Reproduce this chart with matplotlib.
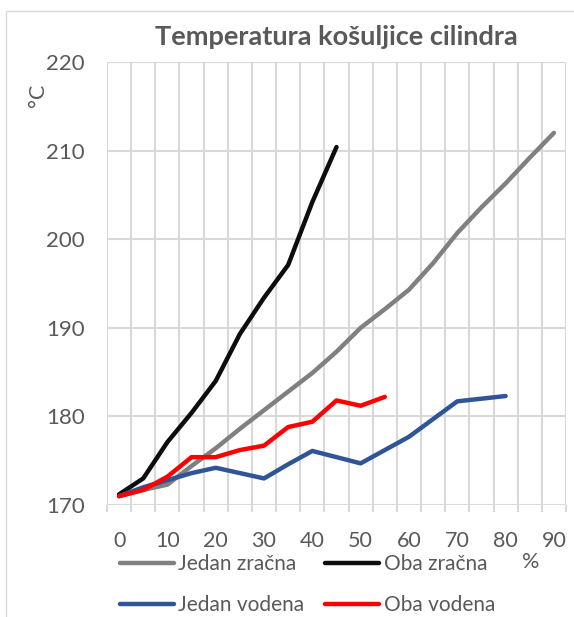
import matplotlib
matplotlib.use("Agg")
import matplotlib.pyplot as plt
from matplotlib.patches import Rectangle
from matplotlib.ticker import MultipleLocator

# Podaci očitani s grafa (x u %, temperatura u °C)
load_pct = [0, 5, 10, 15, 20, 25, 30, 35, 40, 45, 50, 55, 60, 65, 70, 75, 80, 85, 90]

jedan_zracna = [171.0, 171.7, 172.3, 174.4, 176.4, 178.6, 180.7, 182.8, 184.9, 187.3,
                190.0, 192.1, 194.3, 197.3, 200.7, 203.6, 206.3, 209.2, 212.0]
oba_zracna = [171.2, 173.0, 177.1, 180.4, 184.0, 189.3, 193.4, 197.1, 204.2, 210.4]
jedan_vodena = [171.0, 172.0, 172.8, 173.6, 174.2, 173.6, 173.0, 174.6, 176.1, 175.4,
                174.7, 176.2, 177.7, 179.7, 181.7, 182.0, 182.3]
oba_vodena = [171.0, 171.7, 173.2, 175.4, 175.4, 176.2, 176.7, 178.8, 179.4, 181.8,
              181.2, 182.2]

FONT = ["Lato", "DejaVu Sans"]
TXT = "#595959"
GRID = "#d9d9d9"

plt.rcParams['font.family'] = FONT

fig = plt.figure(figsize=(5.74, 6.17), dpi=100)
fig.patches.append(Rectangle((6 / 574, -0.1), 1.2, 1 - 11 / 617 + 0.1,
                             transform=fig.transFigure, fill=False,
                             edgecolor=GRID, linewidth=1.0))

ax = fig.add_axes([107 / 574, 1 - 505 / 617, 459 / 574, 443 / 617])

lw = 3.2
l1, = ax.plot(load_pct[:len(jedan_zracna)], jedan_zracna, color="#808080", lw=lw,
              solid_capstyle="round", solid_joinstyle="round", label="Jedan zračna")
l2, = ax.plot(load_pct[:len(oba_zracna)], oba_zracna, color="#0d0d0d", lw=lw,
              solid_capstyle="round", solid_joinstyle="round", label="Oba zračna")
l3, = ax.plot(load_pct[:len(jedan_vodena)], jedan_vodena, color="#2f5597", lw=lw,
              solid_capstyle="round", solid_joinstyle="round", label="Jedan vodena")
l4, = ax.plot(load_pct[:len(oba_vodena)], oba_vodena, color="#ff0000", lw=lw,
              solid_capstyle="round", solid_joinstyle="round", label="Oba vodena")

ax.set_xlim(-2.5, 92.5)
ax.set_ylim(170, 220)
ax.xaxis.set_major_locator(MultipleLocator(10))
ax.xaxis.set_minor_locator(MultipleLocator(5, offset=2.5))
ax.yaxis.set_major_locator(MultipleLocator(10))
ax.grid(True, which="minor", axis="x", color=GRID, lw=1.5)
ax.grid(True, which="major", axis="y", color=GRID, lw=1.5)
ax.set_axisbelow(True)
ax.tick_params(axis="x", which="major", length=0, labelsize=15.5, labelcolor=TXT, pad=19)
ax.tick_params(axis="x", which="minor", length=5, width=1.5, color=GRID, direction="out")
ax.tick_params(axis="y", which="major", length=0, labelsize=16, labelcolor=TXT, pad=16)
for s in ax.spines.values():
    s.set_visible(False)

fig.text(336 / 574, 1 - 37 / 617, "Temperatura košuljice cilindra", ha="center",
         va="center", fontsize=19.5, fontweight="bold", color=TXT)
fig.text(38 / 574, 1 - 95 / 617, "°C", rotation=90, ha="center", va="center",
         fontsize=15.5, color=TXT)
fig.text(531 / 574, 1 - 562 / 617, "%", ha="center", va="center", fontsize=15.5, color=TXT)

fig.legend(handles=[l1, l3, l2, l4], ncol=2, loc="upper left",
           bbox_to_anchor=(120 / 574, 1 - 554 / 617), frameon=False,
           fontsize=15, labelcolor=TXT, handlelength=2.6, handletextpad=0.2,
           columnspacing=1.0, labelspacing=1.0, borderaxespad=0, borderpad=0)

fig.savefig("out.png", dpi=100)
